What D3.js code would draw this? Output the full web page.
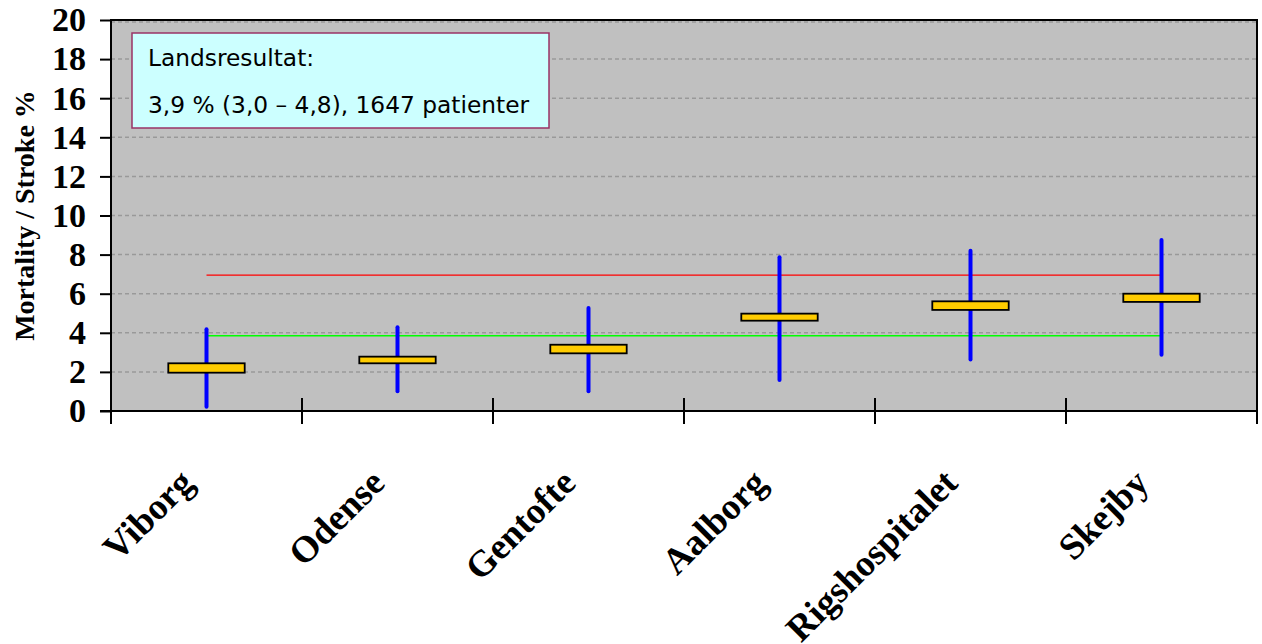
<!DOCTYPE html>
<html lang="da">
<head>
<meta charset="UTF-8">
<style>
  body { margin: 0; background: #fff; }
  svg { display: block; }
</style>
</head>
<body>
<script src="https://cdn.jsdelivr.net/npm/d3@7"></script>
<script>
// hospitaler og værdier
var categories = ["Viborg", "Odense", "Gentofte", "Aalborg", "Rigshospitalet", "Skejby"];
var low     = [0.22, 1.01, 1.01, 1.59, 2.64, 2.88];
var high    = [4.18, 4.28, 5.27, 7.86, 8.20, 8.75];
var boxLow  = [1.96, 2.44, 2.95, 4.62, 5.17, 5.58];
var boxHigh = [2.44, 2.78, 3.39, 4.98, 5.61, 6.00];
var yTicks  = [0, 2, 4, 6, 8, 10, 12, 14, 16, 18, 20];
var landsLinje = 3.85;   // grøn linje
var graenseLinje = 6.95; // rød linje
var legendLines = ["Landsresultat:", "3,9 % (3,0 \u2013 4,8), 1647 patienter"];

var width = 1262, height = 644;
// NB: "top" er reserveret i browseren, derfor pLeft osv.
var pLeft = 111, pRight = 1257, pTop = 20, pBottom = 411;

var svg = d3.select("body").append("svg")
    .attr("width", width)
    .attr("height", height);

var x = d3.scaleBand().domain(categories).range([pLeft, pRight]).padding(0);
var y = d3.scaleLinear().domain([0, 20]).range([pBottom, pTop]);
var bw = x.bandwidth();
function cx(d) { return x(d) + bw / 2; }

// plot område
svg.append("rect")
    .attr("x", pLeft).attr("y", pTop)
    .attr("width", pRight - pLeft).attr("height", pBottom - pTop)
    .attr("fill", "#c0c0c0");

// gitterlinjer
svg.append("g").selectAll("line")
    .data(yTicks.filter(function(d) { return d > 0; }))
    .enter().append("line")
    .attr("x1", pLeft).attr("x2", pRight)
    .attr("y1", function(d) { return y(d) + (d === 20 ? 2 : 0); })
    .attr("y2", function(d) { return y(d) + (d === 20 ? 2 : 0); })
    .attr("stroke", "#999")
    .attr("stroke-width", 1.5)
    .attr("stroke-dasharray", "4,3");

// ramme top og højre
svg.append("path")
    .attr("d", "M" + pLeft + "," + pTop + "H" + pRight + "V" + (pBottom + 13))
    .attr("fill", "none")
    .attr("stroke", "#000")
    .attr("stroke-width", 2);

// referencelinjer
var first = cx(categories[0]), last = cx(categories[categories.length - 1]);
svg.append("line")
    .attr("x1", first).attr("x2", last)
    .attr("y1", y(graenseLinje)).attr("y2", y(graenseLinje))
    .attr("stroke", "#ff0000").attr("stroke-width", 1.3);
svg.append("line")
    .attr("x1", first).attr("x2", last)
    .attr("y1", y(landsLinje)).attr("y2", y(landsLinje))
    .attr("stroke", "#00ff00").attr("stroke-width", 1.3);

// high-low linjer
svg.append("g").selectAll("line")
    .data(categories)
    .enter().append("line")
    .attr("x1", cx).attr("x2", cx)
    .attr("y1", function(d, i) { return y(high[i]); })
    .attr("y2", function(d, i) { return y(low[i]); })
    .attr("stroke", "#0000ff")
    .attr("stroke-width", 4)
    .attr("stroke-linecap", "round");

// bokse
var boxW = bw * 0.4;
svg.append("g").selectAll("rect")
    .data(categories)
    .enter().append("rect")
    .attr("x", function(d) { return cx(d) - boxW / 2; })
    .attr("y", function(d, i) { return y(boxHigh[i]); })
    .attr("width", boxW)
    .attr("height", function(d, i) { return y(boxLow[i]) - y(boxHigh[i]); })
    .attr("fill", "#ffcc00")
    .attr("stroke", "#000")
    .attr("stroke-width", 1.8);

// y-akse
var yAxis = svg.append("g")
    .attr("transform", "translate(" + pLeft + ",0)")
    .call(d3.axisLeft(y).tickValues(yTicks).tickSize(11).tickPadding(14));
yAxis.select(".domain").remove();
yAxis.selectAll(".tick line").attr("stroke", "#000").attr("stroke-width", 2);
yAxis.selectAll(".tick text")
    .attr("font-family", "'Liberation Serif', 'Times New Roman', serif")
    .attr("font-weight", "bold")
    .attr("font-size", 34)
    .attr("fill", "#000");

svg.append("line")
    .attr("x1", pLeft).attr("x2", pLeft)
    .attr("y1", pTop - 1).attr("y2", pBottom + 13)
    .attr("stroke", "#000").attr("stroke-width", 2);
svg.append("line")
    .attr("x1", pLeft - 11).attr("x2", pRight)
    .attr("y1", pBottom).attr("y2", pBottom)
    .attr("stroke", "#000").attr("stroke-width", 2);

// x-akse streger ved kategorigrænser
var bounds = categories.map(function(d) { return x(d); }).concat([pRight]);
svg.append("g").selectAll("line")
    .data(bounds.slice(1, -1))
    .enter().append("line")
    .attr("x1", function(d) { return d; }).attr("x2", function(d) { return d; })
    .attr("y1", pBottom - 13).attr("y2", pBottom + 13)
    .attr("stroke", "#000").attr("stroke-width", 2);

// x etiketter
svg.append("g").selectAll("text")
    .data(categories)
    .enter().append("text")
    .attr("transform", function(d) { return "translate(" + (cx(d) - 11) + "," + (pBottom + 74) + ") rotate(-45)"; })
    .attr("text-anchor", "end")
    .attr("font-family", "'Liberation Serif', 'Times New Roman', serif")
    .attr("font-weight", "bold")
    .attr("font-size", 37)
    .text(function(d) { return d; });

// y titel
svg.append("text")
    .attr("transform", "translate(34," + ((pTop + pBottom) / 2) + ") rotate(-90)")
    .attr("text-anchor", "middle")
    .attr("font-family", "'Liberation Serif', 'Times New Roman', serif")
    .attr("font-weight", "bold")
    .attr("font-size", 28)
    .text("Mortality / Stroke %");

// tekstboks
svg.append("rect")
    .attr("x", 132).attr("y", 33)
    .attr("width", 417).attr("height", 95)
    .attr("fill", "#ccffff")
    .attr("stroke", "#993366")
    .attr("stroke-width", 1.5);
svg.append("g").selectAll("text")
    .data(legendLines)
    .enter().append("text")
    .attr("x", 148)
    .attr("y", function(d, i) { return 66 + i * 46.5; })
    .attr("font-family", "'DejaVu Sans', Verdana, sans-serif")
    .attr("font-size", 23.3)
    .attr("fill", "#000")
    .text(function(d) { return d; });
</script>
</body>
</html>
